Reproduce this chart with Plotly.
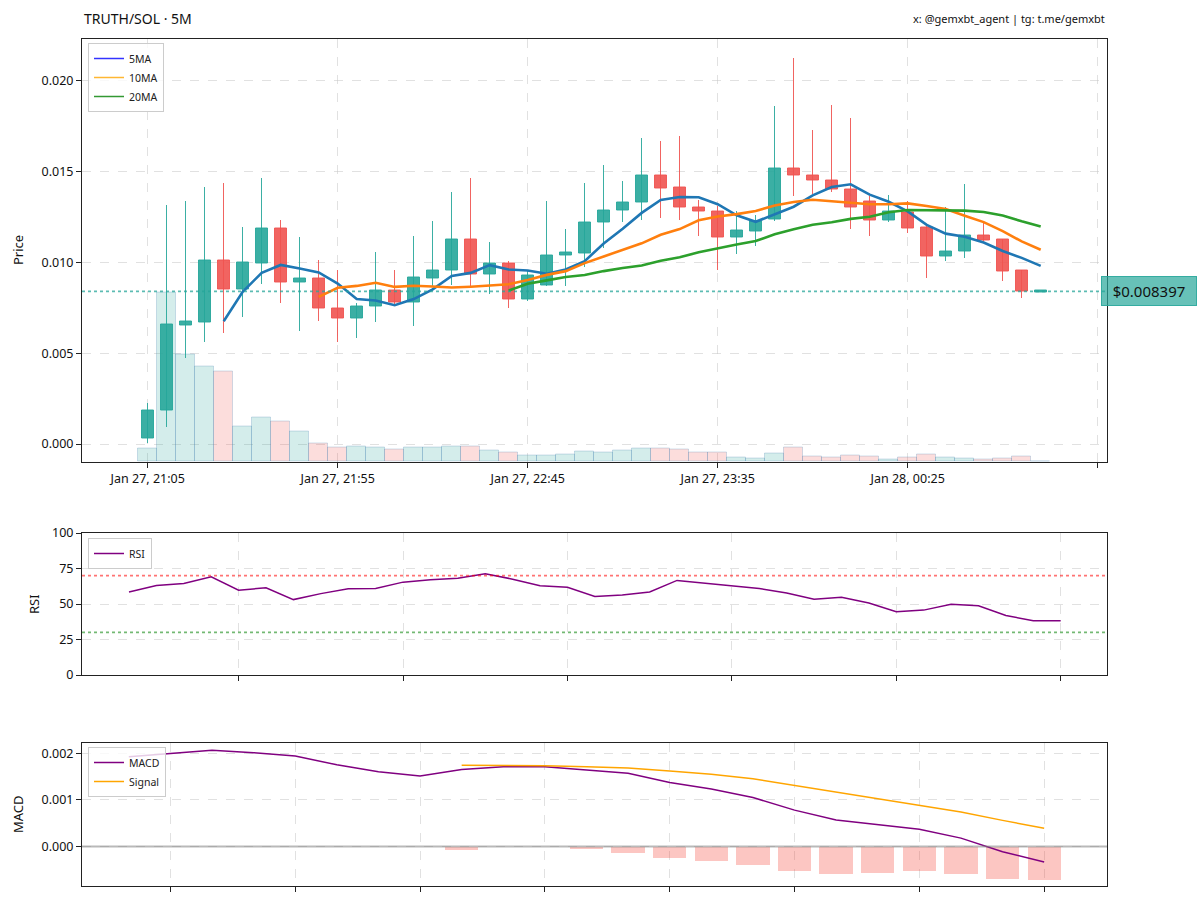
import plotly.graph_objects as go
import pandas as pd

# ---------------- data ----------------
times = pd.date_range("2025-01-27 21:05", periods=48, freq="5min")

opens = [0.00031, 0.00183, 0.00654, 0.00670, 0.01007, 0.00850, 0.00991, 0.01185, 0.00886, 0.00908,
         0.00747, 0.00689, 0.00758, 0.00846, 0.00778, 0.00910, 0.00952, 0.01126, 0.00932, 0.00991,
         0.00795, 0.00874, 0.01038, 0.01048, 0.01216, 0.01282, 0.01328, 0.01476, 0.01408, 0.01300,
         0.01280, 0.01137, 0.01170, 0.01234, 0.01515, 0.01478, 0.01450, 0.01401, 0.01332, 0.01231,
         0.01271, 0.01189, 0.01029, 0.01057, 0.01148, 0.01125, 0.00954, 0.008397]
highs = [0.00229, 0.01317, 0.01337, 0.01418, 0.01436, 0.01198, 0.01463, 0.01236, 0.01143, 0.01015,
         0.00960, 0.00777, 0.01057, 0.00960, 0.01148, 0.01229, 0.01386, 0.01465, 0.01112, 0.01009,
         0.00956, 0.01337, 0.01185, 0.01438, 0.01537, 0.01450, 0.01685, 0.01670, 0.01698, 0.01344,
         0.01313, 0.01282, 0.01262, 0.01863, 0.02125, 0.01729, 0.01866, 0.01795, 0.01368, 0.01374,
         0.01341, 0.01203, 0.01308, 0.01432, 0.01231, 0.01130, 0.00960, 0.008397]
lows = [0.00009, 0.00095, 0.00476, 0.00562, 0.00612, 0.00700, 0.00883, 0.00777, 0.00623, 0.00681,
        0.00566, 0.00586, 0.00672, 0.00775, 0.00654, 0.00864, 0.00879, 0.00874, 0.00828, 0.00751,
        0.00791, 0.00874, 0.00874, 0.00974, 0.01080, 0.01222, 0.01234, 0.01244, 0.01234, 0.01148,
        0.00960, 0.01048, 0.01093, 0.01227, 0.01368, 0.01377, 0.01386, 0.01185, 0.01148, 0.01222,
        0.01161, 0.00916, 0.01011, 0.01026, 0.01121, 0.00897, 0.00806, 0.008397]
closes = [0.00187, 0.00659, 0.00672, 0.01007, 0.00850, 0.00996, 0.01185, 0.00886, 0.00908, 0.00745,
          0.00689, 0.00758, 0.00846, 0.00778, 0.00914, 0.00956, 0.01126, 0.00932, 0.00991, 0.00795,
          0.00927, 0.01038, 0.01051, 0.01218, 0.01282, 0.01328, 0.01476, 0.01405, 0.01299, 0.01277,
          0.01137, 0.01172, 0.01225, 0.01515, 0.01476, 0.01449, 0.01401, 0.01300, 0.01231, 0.01280,
          0.01185, 0.01029, 0.01060, 0.01147, 0.01121, 0.00951, 0.008397, 0.008397]
volumes = [40, 508, 322, 285, 272, 107, 133, 120, 91, 54,
           43, 47, 44, 36, 42, 44, 47, 47, 33, 27,
           19, 20, 23, 31, 29, 34, 39, 40, 36, 28,
           28, 14, 11, 24, 43, 17, 14, 18, 16, 8,
           13, 21, 14, 10, 7, 10, 17, 0]

rsi_values = [58.5, 63.0, 64.5, 69.2, 59.7, 61.4, 53.1, 57.3, 60.7, 60.9,
              65.4, 67.1, 68.2, 71.3, 67.5, 62.8, 61.8, 55.3, 56.4, 58.5,
              66.6, 64.7, 63.3, 60.9, 57.8, 53.3, 54.7, 50.7, 44.5, 45.7,
              49.8, 48.8, 41.9, 38.2, 38.2]

macd_values = [0.00192, 0.00199, 0.00206, 0.00201, 0.00194, 0.00175, 0.00160, 0.00151, 0.00165, 0.00171,
               0.00171, 0.00164, 0.00157, 0.00137, 0.00123, 0.00105, 0.00078, 0.00057, 0.00047, 0.00037,
               0.00018, -0.00011, -0.00033]
signal_values = [0.00174, 0.00174, 0.00173, 0.00171, 0.00168, 0.00162, 0.00155, 0.00145, 0.00131, 0.00116,
                 0.00102, 0.00089, 0.00074, 0.00056, 0.00039]
hist_values = [-0.00008, -0.00002, -0.00002, -0.00005, -0.00013, -0.00025, -0.00031, -0.00040, -0.00053, -0.00059,
               -0.00056, -0.00052, -0.00059, -0.00069, -0.00071]

last_price = 0.008397
x_tick_every = 10

# ---------------- derived ----------------
n = len(closes)
idx = list(range(n))
up = [c >= o for o, c in zip(opens, closes)]
close_s = pd.Series(closes)
ma5 = close_s.rolling(5).mean()
ma10 = close_s.rolling(10).mean()
ma20 = close_s.rolling(20).mean()

tick_vals = list(range(0, n + 3, x_tick_every))
tick_text = [times[i].strftime("%b %d, %H:%M") if i < n else "" for i in tick_vals]

rsi_x = list(range(len(rsi_values)))
macd_x = list(range(len(macd_values)))
sig_x = macd_x[len(macd_values) - len(signal_values):]

# ---------------- style ----------------
W, H = 1200, 903
FONT = "Noto Sans"
UP = "rgba(38,166,154,0.9)"
DN = "rgba(239,83,80,0.9)"
UPV = "rgba(38,166,154,0.2)"
DNV = "rgba(239,83,80,0.2)"
GRID = "rgba(200,200,200,0.55)"

main_x = [82 / W, 1107 / W]
main_y = [1 - 461.7 / H, 1 - 38.5 / H]
rsi_y = [1 - 675 / H, 1 - 533 / H]
macd_y = [1 - 886 / H, 1 - 743 / H]

fig = go.Figure()

# volume (base axis y, drawn underneath)
fig.add_trace(go.Bar(x=idx, y=volumes, width=1.0, xaxis="x", yaxis="y",
                     marker=dict(color=[UPV if u else DNV for u in up],
                                 line=dict(color="rgba(70,130,180,0.25)", width=1)),
                     showlegend=False, hoverinfo="skip"))

# wicks
fig.add_trace(go.Bar(x=idx, y=[h - l for h, l in zip(highs, lows)], base=lows, width=0.08,
                     xaxis="x", yaxis="y2",
                     marker=dict(color=[UP if u else DN for u in up], line=dict(width=0)),
                     showlegend=False))
# bodies
min_body = 0.00009
body_h = [max(abs(c - o), min_body) for o, c in zip(opens, closes)]
body_b = [min(o, c) - (min_body - abs(c - o)) / 2 if abs(c - o) < min_body else min(o, c)
          for o, c in zip(opens, closes)]
fig.add_trace(go.Bar(x=idx, y=body_h, base=body_b, width=0.65, xaxis="x", yaxis="y2",
                     marker=dict(color=[UP if u else DN for u in up],
                                 line=dict(color=[UP if u else DN for u in up], width=1)),
                     showlegend=False))

# moving averages
for s, col in [(ma5, "#1f77b4"), (ma10, "#ff7f0e"), (ma20, "#2ca02c")]:
    fig.add_trace(go.Scatter(x=idx, y=s, mode="lines", line=dict(color=col, width=2.6),
                             xaxis="x", yaxis="y2", showlegend=False))
# legend entries
for name, col in [("5MA", "rgba(0,0,255,0.8)"), ("10MA", "rgba(255,165,0,0.8)"), ("20MA", "rgba(0,128,0,0.8)")]:
    fig.add_trace(go.Scatter(x=[None], y=[None], mode="lines", name=name, line=dict(color=col, width=1.5),
                             xaxis="x", yaxis="y2", legend="legend"))

# RSI
fig.add_trace(go.Scatter(x=rsi_x, y=rsi_values, mode="lines", name="RSI",
                         line=dict(color="purple", width=1.5), xaxis="x2", yaxis="y3", legend="legend2"))

# MACD
fig.add_trace(go.Bar(x=sig_x, y=hist_values, width=0.8, xaxis="x3", yaxis="y4",
                     marker=dict(color="rgba(244,67,54,0.3)", line=dict(width=0)), showlegend=False))
fig.add_trace(go.Scatter(x=macd_x, y=macd_values, mode="lines", name="MACD",
                         line=dict(color="purple", width=1.5), xaxis="x3", yaxis="y4", legend="legend3"))
fig.add_trace(go.Scatter(x=sig_x, y=signal_values, mode="lines", name="Signal",
                         line=dict(color="orange", width=1.5), xaxis="x3", yaxis="y4", legend="legend3"))

axis_common = dict(showline=True, mirror=True, linecolor="#222", linewidth=1, ticks="outside",
                   ticklen=5, tickcolor="#222", showgrid=True, gridcolor=GRID, griddash="dash",
                   gridwidth=1, zeroline=False, automargin=False,
                   tickfont=dict(family=FONT, size=12.5, color="#111"))

leg_common = dict(xanchor="left", yanchor="top", bgcolor="rgba(255,255,255,0.8)",
                  bordercolor="#cccccc", borderwidth=1, font=dict(family=FONT, size=10.5, color="#222"),
                  itemwidth=30, tracegroupgap=0)

fig.update_layout(
    width=W, height=H, margin=dict(l=0, r=0, t=0, b=0),
    paper_bgcolor="white", plot_bgcolor="white",
    barmode="overlay", bargap=0,
    font=dict(family=FONT, size=12, color="#111"),
    xaxis=dict(domain=main_x, anchor="y", range=[-3.458, 50.49], tickmode="array",
               tickvals=tick_vals, ticktext=tick_text, **axis_common),
    yaxis=dict(domain=main_y, anchor="x", range=[0, 1270], visible=False, showgrid=False),
    yaxis2=dict(overlaying="y", side="left", anchor="x", range=[-0.00097, 0.0223],
                tickmode="array", tickvals=[0, 0.005, 0.01, 0.015, 0.02], tickformat=".3f", **axis_common),
    xaxis2=dict(domain=main_x, anchor="y3", range=[-1.715, 35.69], tickmode="array",
                tickvals=[4, 10, 16, 22, 28, 34], showticklabels=False, **axis_common),
    yaxis3=dict(domain=rsi_y, anchor="x2", range=[0, 100], tickmode="array",
                tickvals=[0, 25, 50, 75, 100], **axis_common),
    xaxis3=dict(domain=main_x, anchor="y4", range=[-1.125, 23.51], tickmode="array",
                tickvals=[1, 4, 7, 10, 13, 16, 19, 22], showticklabels=False, **axis_common),
    yaxis4=dict(domain=macd_y, anchor="x3", range=[-0.000845, 0.002217], tickmode="array",
                tickvals=[0, 0.001, 0.002], tickformat=".3f", **axis_common),
    legend=dict(x=88 / W, y=1 - 43 / H, **leg_common),
    legend2=dict(x=88 / W, y=1 - 538 / H, **leg_common),
    legend3=dict(x=88 / W, y=1 - 747 / H, **leg_common),
    shapes=[
        dict(type="line", xref="x domain", x0=0, x1=1, yref="y2", y0=last_price, y1=last_price,
             line=dict(color="rgba(38,166,154,0.75)", width=1.6, dash="dot")),
        dict(type="line", xref="x2 domain", x0=0, x1=1, yref="y3", y0=70, y1=70,
             line=dict(color="rgba(255,0,0,0.55)", width=1.6, dash="dot")),
        dict(type="line", xref="x2 domain", x0=0, x1=1, yref="y3", y0=30, y1=30,
             line=dict(color="rgba(0,128,0,0.55)", width=1.6, dash="dot")),
        dict(type="line", xref="x3 domain", x0=0, x1=1, yref="y4", y0=0, y1=0,
             line=dict(color="rgba(128,128,128,0.55)", width=2)),
    ],
    annotations=[
        dict(text="TRUTH/SOL · 5M", xref="paper", yref="paper", x=82 / W, y=1 - 18 / H,
             xanchor="left", yanchor="middle", showarrow=False, font=dict(family=FONT, size=14, color="#111")),
        dict(text="x: @gemxbt_agent | tg: t.me/gemxbt", xref="paper", yref="paper", x=1107 / W, y=1 - 18 / H,
             xanchor="right", yanchor="middle", showarrow=False, font=dict(family=FONT, size=11, color="#111")),
        dict(text="$" + f"{last_price:.6f}", xref="paper", yref="y2", x=1101 / W, y=last_price,
             xanchor="left", yanchor="middle", showarrow=False, bgcolor="rgba(38,166,154,0.7)",
             bordercolor="rgba(38,166,154,0.9)", borderwidth=1, borderpad=4, width=86, height=20,
             align="center", font=dict(family=FONT, size=15, color="#111")),
        dict(text="Price", xref="paper", yref="paper", x=18 / W, y=1 - 250 / H, textangle=-90,
             xanchor="center", yanchor="middle", showarrow=False, font=dict(family=FONT, size=13, color="#111")),
        dict(text="RSI", xref="paper", yref="paper", x=34 / W, y=1 - 604 / H, textangle=-90,
             xanchor="center", yanchor="middle", showarrow=False, font=dict(family=FONT, size=13, color="#111")),
        dict(text="MACD", xref="paper", yref="paper", x=18 / W, y=1 - 814 / H, textangle=-90,
             xanchor="center", yanchor="middle", showarrow=False, font=dict(family=FONT, size=13, color="#111")),
    ],
)

fig.write_html("out.html", config={"displayModeBar": False},
               post_script="document.body.style.margin='0px';")
